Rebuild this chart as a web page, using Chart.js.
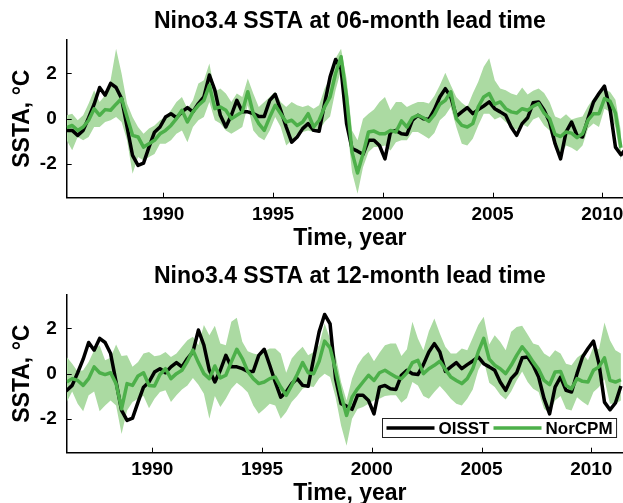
<!DOCTYPE html>
<html>
<head>
<meta charset="utf-8">
<script src="https://cdn.jsdelivr.net/npm/chart.js@4.4.1/dist/chart.umd.min.js"></script>
<style>
  html, body { margin: 0; padding: 0; background: #fff; overflow: hidden; }
  .panel { position: absolute; left: 0; width: 633px; height: 252px; }
  #p1 { top: 0; }
  #p2 { top: 255px; }
</style>
</head>
<body>
<div class="panel" id="p1"><canvas id="c1"></canvas></div>
<div class="panel" id="p2"><canvas id="c2"></canvas></div>
<script>
// seasonal (3-month) samples, time in decimal years
const obsStart = 1985.6;
const lead06Start = 1985.6;
const lead12Start = 1986.1;
const step = 0.25;
const xTicks = [1990, 1995, 2000, 2005, 2010];
const yTicks = [-2, 0, 2];

const oisst = [
  -0.52, -0.52, -0.74, -0.52, 0.04, 0.64, 1.38, 1.04, 1.56, 1.38,
  0.89, -0.37, -1.63, -2.07, -1.97, -1.26, -0.6, -0.37, 0.07, 0.22,
  0.04, 0.3, 0.49, 0.3, 0.67, 0.96, 1.93, 1.26, 0.15, -0.37,
  0.15, 0.81, 0.3, 0.3, 0.22, 0.1, 0.1, 0.81, 1.08, 0.37,
  -0.37, -1.04, -0.81, -0.44, -0.22, -0.52, -0.56, 0.67, 1.85, 2.62,
  2.2, -0.22, -1.33, -1.44, -1.58, -0.96, -0.96, -1.19, -1.78, -0.6,
  -0.52, -0.67, -0.7, -0.07, 0.15, 0, -0.04, 0.4, 0.96, 1.33,
  0.96, 0.1, 0.3, 0.49, 0.22, 0.4, 0.56, 0.74, 0.44, 0.3,
  0.15, -0.37, -0.74, -0.22, 0.04, 0.7, 0.74, 0.37, -0.15, -1.11,
  -1.78, -0.6, -0.15, -0.74, -0.81, 0, 0.74, 1.11, 1.44, 0.44,
  -1.26, -1.6, -1.3, -0.55
];

const norcpm06 = [
  -0.4, -0.3, -0.52, -0.37, -0.07, 0.44, 0.15, 0.4, 0.37, 0.64,
  0.89, 0.07, -0.74, -0.81, -1.26, -1.11, -0.96, -0.67, -0.52, -0.3,
  0, 0.37, -0.15, 0.3, 0.59, 0.81, 1.48, 0.44, 0.52, 0.37,
  0, 0.15, 0.3, 1.19, 0.22, -0.22, -0.52, 0.07, 0.59, 0.22,
  -0.15, -0.07, -0.3, -0.15, 0.22, -0.37, -0.07, 0.52, 0.96, 2.0,
  2.74, 0.96, -1.48, -2.41, -1.56, -0.59, -0.55, -0.67, -0.67, -0.52,
  -0.59, -0.1, -0.37, 0.04, 0.15, 0.04, -0.12, 0.18, 0.64, 0.81,
  1.19, 0, -0.3, -0.37, -0.22, 0.52, 0.96, 1.11, 0.64, 0.74,
  0.44, 0.3, 0.25, 0.44, 0.37, 0.55, 0.67, 0.25, 0, -0.7,
  -0.79, -0.59, -0.64, -0.84, -0.67, -0.07, 0.22, 0.22, 0.89, 0.78,
  0.25, -1.29
];
const norcpm06Hi = [
  0.15, 0.22, -0.07, 0.15, 0.67, 1.26, 0.74, 1.04, 1.7, 3.1,
  2.0, 0.67, 0.07, -0.37, -0.67, -0.44, -0.3, -0.07, 0.07, 0.37,
  0.74, 0.96, 0.44, 0.81, 1.56, 1.7, 2.44, 1.19, 1.33, 1.11,
  0.74, 1.11, 0.96, 1.78, 1.11, 0.52, 0.74, 0.96, 1.19, 0.74,
  0.52, 0.74, 0.59, 0.52, 0.59, 0.44, 0.59, 1.33, 1.78, 2.67,
  3.1, 1.78, -0.52, -0.96, 0, 0.22, 0.4, 0.74, 0.96, 0.37,
  0.74, 0.74, 0.52, 0.64, 0.74, 0.74, 0.67, 1.0, 1.48, 2.03,
  1.48, 0.96, 0.7, 0.52, 1.11, 1.63, 2.3, 2.67, 1.7, 1.33,
  1.26, 1.11, 1.04, 1.38, 1.07, 1.23, 1.33, 1.14, 0.74, 0.1,
  0, 0.19, -0.04, 0.04, 0.1, 0.55, 0.89, 1.08, 1.26, 1.19,
  0.84, -0.55
];
const norcpm06Lo = [
  -0.96, -1.4, -0.81, -0.96, -0.81, -0.37, -0.37, -0.15, -0.07, 0.07,
  -0.15, -0.96, -2.44, -1.7, -1.85, -1.7, -1.56, -1.11, -1.11, -0.96,
  -0.67, -0.52, -1.04, -0.37, -0.07, 0.07, 0.74, -0.07, -0.22, -0.52,
  -0.67, -0.52, -0.37, 0.59, -0.52, -0.81, -0.96, -0.52, 0.07, -0.37,
  -1.19, -0.96, -0.67, -0.59, -0.52, -0.59, -0.52, -0.15, 0.1, 1.26,
  2.15, -0.07, -2.37, -3.33, -2.15, -1.48, -1.26, -1.26, -1.19, -1.41,
  -1.04, -0.96, -0.96, -0.59, -0.59, -0.74, -0.89, -0.64, -0.07, 0.15,
  0.52, -0.37, -1.11, -1.19, -0.89, -0.3, 0.22, 0.22, -0.04, 0.07,
  -0.15, -0.37, -0.49, -0.25, -0.37, -0.04, 0.07, -0.3, -0.52, -1.33,
  -1.63, -1.19, -1.29, -1.44, -1.19, -0.44, -0.22, -0.37, 0.44, 0.3,
  -0.4, -1.88
];

const norcpm12 = [
  -0.37, -0.22, -0.3, -0.52, -0.22, 0.3, 0.04, -0.04, 0.04, -0.44,
  -1.56, -0.44, -0.52, -0.1, 0.04, -0.52, -0.55, -0.04, 0.22, -0.22,
  0, 0.15, 0.55, 1.04, 0.49, 0, -0.22, 0.34, -0.19, -0.07,
  0.52, 1.08, 0.67, 0.1, -0.22, -0.44, -0.37, -0.22, -0.15, -0.59,
  -0.96, -0.52, -0.04, 0.49, 0.04, 0, 0.55, 1.44, 1.14, 0.15,
  -0.96, -1.85, -1.04, -0.67, -0.37, -0.07, -0.3, 0.04, 0.15, 0,
  -0.15, -0.22, 0.04, 0.49, 0.59, 0, 0.22, 0.37, 0.55, 0.19,
  -0.15, -0.3, -0.44, -0.22, 0.22, 0.96, 1.56, 0.64, 0.37, 0.22,
  0, 0.37, 0.81, 1.19, 0.89, 0.52, 0.19, -0.3, -0.49, 0.07,
  0.1, -0.52, -0.67, -0.22, -0.34, -0.37, 0.15, 0.3, 0.7, -0.3,
  -0.37, -0.27
];
const norcpm12Hi = [
  0.74, 0.44, 0.1, 0.15, 0.52, 1.04, 1.26, 0.59, 0.7, 1.29,
  0.78, 0.81, 0.3, 0.52, 0.89, 0.96, 0.77, 0.81, 0.96, 0.74,
  0.89, 1.19, 1.48, 1.63, 1.26, 2.15, 1.7, 2.12, 1.33, 1.26,
  2.3, 2.47, 1.41, 0.99, 0.89, 0.84, 0.99, 1.11, 1.11, 0.89,
  0.04, 0.67, 0.96, 1.19, 0.81, 0.96, 1.26, 2.22, 1.53, 0.81,
  -0.37, -1.19, -0.22, 0.37, 0.74, 0.96, 0.55, 0.93, 1.26, 1.33,
  1.33, 0.78, 1.08, 2.3, 1.56, 1.04, 1.88, 2.44, 1.78, 1.19,
  0.89, 0.89, 1.11, 1.04, 1.59, 2.15, 2.52, 1.29, 1.7, 1.41,
  1.04, 1.85, 2.07, 2.12, 1.73, 1.33, 1.26, 0.89, 0.74, 1.04,
  0.89, 0.44, 0.37, 0.7, 0.89, 0.59, 1.19, 1.08, 2.27, 1.48,
  1.04, 0.89
];
const norcpm12Lo = [
  -1.26, -0.79, -1.33, -1.67, -0.96, -0.79, -1.67, -1.41, -1.19, -1.41,
  -2.67, -1.63, -1.26, -1.11, -0.99, -1.53, -1.11, -0.81, -0.74, -1.26,
  -0.96, -0.7, -0.52, -0.19, -0.49, -0.89, -2.0, -0.99, -1.48, -1.11,
  -0.67, -0.4, -0.59, -0.84, -1.41, -1.78, -1.56, -1.33, -1.41, -2.0,
  -1.7, -1.26, -0.99, -0.67, -0.55, -0.59, -0.22, 0, -0.15, -1.04,
  -2.3, -3.19, -2.0, -1.56, -1.48, -1.33, -1.19, -1.11, -0.99, -0.96,
  -0.96, -1.29, -1.08, -0.37, -0.52, -0.99, -1.11, -0.81, -0.55, -0.81,
  -1.11, -1.33, -1.41, -1.11, -0.7, 0.15, 0.59, -0.4, -0.59, -0.93,
  -1.14, -0.79, -0.3, 0.1, -0.37, -0.67, -0.81, -1.56, -1.73, -1.19,
  -0.99, -1.56, -1.63, -1.04, -1.24, -1.41, -0.81, -0.59, -0.25, -1.33,
  -1.33, -1.19
];

const green = '#4db04a';
const bandColor = '#abdaa2';
const fontFamily = '"Liberation Sans", Arial, Helvetica, sans-serif';
Chart.defaults.font.family = fontFamily;

const toXY = (vals, start) => vals.map((v, i) => ({ x: start + i * step, y: v }));

// MATLAB style ticks pointing into the axes
const inwardTicks = {
  id: 'inwardTicks',
  afterDatasetsDraw(chart) {
    const { ctx, chartArea: a, scales: { x, y } } = chart;
    ctx.save();
    ctx.strokeStyle = '#000';
    ctx.lineWidth = 1;
    ctx.beginPath();
    x.ticks.forEach(t => { const px = Math.round(x.getPixelForValue(t.value)) + 0.5; ctx.moveTo(px, a.bottom); ctx.lineTo(px, a.bottom - 5); });
    y.ticks.forEach(t => { const py = Math.round(y.getPixelForValue(t.value)) + 0.5; ctx.moveTo(a.left, py); ctx.lineTo(a.left + 5, py); });
    ctx.stroke();
    ctx.restore();
  }
};

const boxLegend = {
  id: 'boxLegend',
  afterDraw(chart, args, opts) {
    if (!opts.show) return;
    const { ctx, chartArea: a } = chart;
    const items = chart.data.datasets.filter(d => d.inLegend);
    ctx.save();
    ctx.font = 'bold 17px ' + fontFamily;
    const pad = 4, lineLen = 48, gap = 4, h = 19;
    let w = pad;
    items.forEach(d => { w += lineLen + gap + ctx.measureText(d.label).width + pad; });
    const x0 = Math.round(a.right - 17 - w) + 0.5, y0 = Math.round(a.bottom - 16 - h) + 0.5;
    ctx.fillStyle = '#fff';
    ctx.fillRect(x0, y0, w, h);
    ctx.strokeStyle = '#222';
    ctx.lineWidth = 1;
    ctx.strokeRect(x0, y0, w, h);
    let cx = x0 + pad;
    const cy = y0 + h / 2;
    items.forEach(d => {
      ctx.strokeStyle = d.borderColor;
      ctx.lineWidth = 3.5;
      ctx.beginPath(); ctx.moveTo(cx, cy); ctx.lineTo(cx + lineLen, cy); ctx.stroke();
      cx += lineLen + gap;
      ctx.fillStyle = '#000';
      ctx.textBaseline = 'middle';
      ctx.fillText(d.label, cx, cy + 1);
      cx += ctx.measureText(d.label).width + pad;
    });
    ctx.restore();
  }
};

function makePanel(canvas, title, xMin, xMax, start, mean, hi, lo, showLegend) {
  const lineStyle = { pointRadius: 0, borderWidth: 3.5, tension: 0, borderJoinStyle: 'round', fill: false };
  return new Chart(canvas.getContext('2d'), {
    type: 'line',
    data: {
      datasets: [
        { label: 'spread max', data: toXY(hi, start), borderColor: 'rgba(0,0,0,0)', borderWidth: 0, pointRadius: 0, fill: false, order: 3 },
        { label: 'spread min', data: toXY(lo, start), borderColor: 'rgba(0,0,0,0)', borderWidth: 0, pointRadius: 0, fill: '-1', backgroundColor: bandColor, order: 2 },
        { label: 'OISST', data: toXY(oisst, obsStart), borderColor: '#000', inLegend: true, order: 1, ...lineStyle },
        { label: 'NorCPM', data: toXY(mean, start), borderColor: green, inLegend: true, order: 0, ...lineStyle }
      ]
    },
    options: {
      responsive: true,
      maintainAspectRatio: false,
      animation: false,
      events: [],
      layout: { padding: 0 },
      scales: {
        x: {
          type: 'linear', min: xMin, max: xMax,
          grid: { display: true, drawOnChartArea: false, drawTicks: false },
          border: { display: true, color: '#000', width: 1.5 },
          afterBuildTicks: s => { s.ticks = xTicks.map(v => ({ value: v })); },
          afterFit: s => { s.height = 54.3; },
          ticks: { color: '#000', font: { size: 19, weight: 'bold' }, padding: 6, maxRotation: 0, autoSkip: false, callback: v => String(v) },
          title: { display: true, text: 'Time, year', color: '#000', font: { size: 23, weight: 'bold' }, padding: { top: 3.2, bottom: 0 } }
        },
        y: {
          type: 'linear', min: -3.5, max: 3.5,
          grid: { display: true, drawOnChartArea: false, drawTicks: false },
          border: { display: true, color: '#000', width: 1.5 },
          afterBuildTicks: s => { s.ticks = yTicks.map(v => ({ value: v })); },
          afterFit: s => { s.width = 66.7; },
          ticks: { color: '#000', font: { size: 19, weight: 'bold' }, padding: 10, autoSkip: false, callback: v => String(v) },
          title: { display: true, text: 'SSTA, °C', color: '#000', font: { size: 23, weight: 'bold' }, padding: { top: 9, bottom: 0 } }
        }
      },
      plugins: {
        legend: { display: false },
        tooltip: { enabled: false },
        title: { display: true, text: title, fullSize: false, color: '#000', font: { size: 23, weight: 'bold' }, padding: { top: 8, bottom: 4 } },
        boxLegend: { show: showLegend }
      }
    },
    plugins: [inwardTicks, boxLegend]
  });
}

makePanel(document.getElementById('c1'), 'Nino3.4 SSTA at 06-month lead time', 1985.6, 2011.4, lead06Start, norcpm06, norcpm06Hi, norcpm06Lo, false);
makePanel(document.getElementById('c2'), 'Nino3.4 SSTA at 12-month lead time', 1986.1, 2011.9, lead12Start, norcpm12, norcpm12Hi, norcpm12Lo, true);
</script>
</body>
</html>
